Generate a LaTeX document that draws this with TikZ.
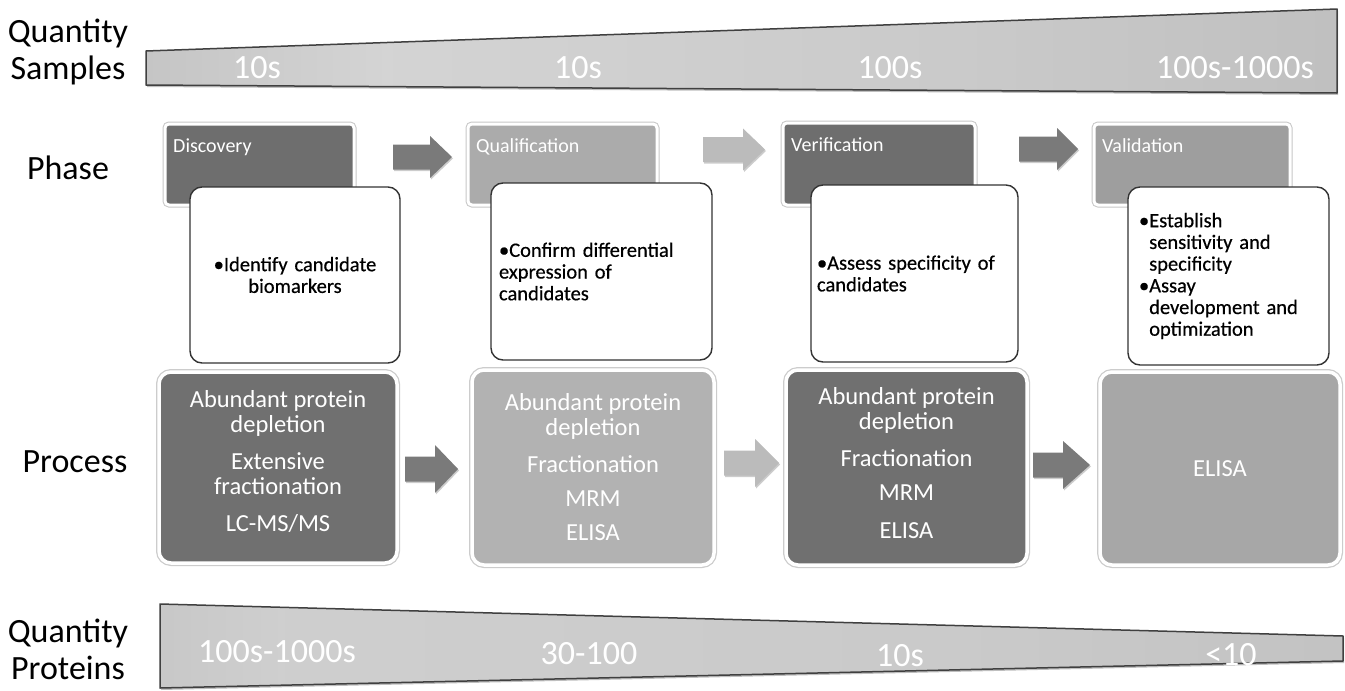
\documentclass[tikz,border=0pt]{standalone}
\usepackage{fontspec}
\setmainfont{Carlito}
\newfontfamily\infofont[FakeBold=0.5]{Carlito}
\usetikzlibrary{calc,shadows}
\definecolor{darkbox}{HTML}{6E6E6E}
\definecolor{lightbox}{HTML}{ABABAB}
\definecolor{midbox}{HTML}{9E9E9E}
\definecolor{darkproc}{HTML}{707070}
\definecolor{lightproc}{HTML}{B2B2B2}
\definecolor{midproc}{HTML}{A7A7A7}
\definecolor{darkarrow}{HTML}{7A7A7A}
\definecolor{lightarrow}{HTML}{BBBBBB}
\pgfdeclarehorizontalshading{topwedgeshade}{100bp}{color(0bp)=(black!37); color(35bp)=(black!17); color(60bp)=(black!21); color(100bp)=(black!31)}
\pgfdeclarehorizontalshading{botwedgeshade}{100bp}{color(0bp)=(black!35); color(30bp)=(black!19); color(60bp)=(black!21); color(100bp)=(black!28)}
\newcommand{\blockarr}[7]{%
  \fill[#7, drop shadow={shadow xshift=1pt,shadow yshift=-1.5pt,fill=black,opacity=0.2}]
    (#1,#4-#5) -- (#2,#4-#5) -- (#2,#4-#6) -- (#3,#4) -- (#2,#4+#6) -- (#2,#4+#5) -- (#1,#4+#5) -- cycle;}
\begin{document}
\begin{tikzpicture}[x=1pt,y=-1pt,
  lab/.style={font=\fontsize{34}{37}\selectfont, align=center, text=black},
  wlab/.style={font=\fontsize{34}{37}\selectfont, text=white},
  wedge/.style={draw=black!75, line width=1.5pt, line join=round, shading angle=0,
    drop shadow={shadow xshift=1pt,shadow yshift=-2pt,fill=black,opacity=0.25}},
  phasebox/.style={rectangle, rounded corners=4pt, draw=white, line width=3pt, preaction={draw=black!22, line width=5pt}, anchor=north west, inner sep=0pt, outer sep=0pt},
  phlab/.style={font=\fontsize{20}{22}\selectfont, text=white, anchor=west, inner sep=0pt},
  infobox/.style={rectangle, rounded corners=12pt, draw=black!80, line width=1.4pt, fill=white, anchor=north west, outer sep=0pt, inner ysep=0pt, font=\infofont\fontsize{20.5}{21.7}\selectfont},
  procbox/.style={rectangle, rounded corners=12pt, draw=white, line width=3.5pt, preaction={draw=black!20, line width=6pt}, anchor=north west, inner sep=0pt, outer sep=0pt, text=white, align=center, font=\fontsize{24.5}{25}\selectfont},
]
\useasboundingbox (0,0) rectangle (1345,691);
\fill[white] (0,0) rectangle (1345,691);

% top wedge
\shade[wedge, shading=topwedgeshade] (146,51) -- (1337,9) -- (1337,93) -- (146,85) -- cycle;
\node[wlab] (s1) at (257,68) {10s};
\node[wlab] (s2) at (578,68) {10s};
\node[wlab] (s3) at (890,68) {100s};
\node[wlab] (s4) at (1235,68) {100s-1000s};

% bottom wedge
\shade[wedge, shading=botwedgeshade] (160,604) -- (1343,636) -- (1343,661) -- (160,688) -- cycle;
\node[wlab] (q1) at (277,652) {100s-1000s};
\node[wlab] (q2) at (589,654) {30-100};
\node[wlab] (q3) at (900,656) {10s};
\node[wlab] (q4) at (1231,655) {<10};

% left labels
\node[lab] (qs) at (68,52) {Quantity\\Samples};
\node[lab] (phase) at (68,168) {Phase};
\node[lab] (proc) at (75,462) {Process};
\node[lab] (qp) at (68,649) {Quantity\\Proteins};

% phase boxes
\node[phasebox, fill=darkbox, minimum width=189pt, minimum height=81pt] (ph1) at (165,124) {};
\node[phasebox, fill=lightbox, minimum width=189pt, minimum height=81pt] (ph2) at (468,124) {};
\node[phasebox, fill=darkbox, minimum width=192pt, minimum height=82pt] (ph3) at (783,123) {};
\node[phasebox, fill=midbox, minimum width=196pt, minimum height=81pt] (ph4) at (1094,124) {};
\node[phlab] (ph1l) at ($(ph1.north west)+(8,23)$) {Discovery};
\node[phlab] (ph2l) at ($(ph2.north west)+(8,23)$) {Qualification};
\node[phlab] (ph3l) at ($(ph3.north west)+(8,22)$) {Verification};
\node[phlab] (ph4l) at ($(ph4.north west)+(8,22)$) {Validation};

% info boxes
\node[infobox, minimum width=210pt, minimum height=176pt, text width=194pt, inner xsep=8pt, align=center] (i1) at (190,187) {•Identify candidate\\biomarkers};
\node[infobox, minimum width=221pt, minimum height=177pt, text width=205pt, inner xsep=8pt, align=left] (i2) at (491,183) {•Confirm differential\\expression of\\candidates};
\node[infobox, minimum width=207pt, minimum height=177pt, text width=195pt, inner xsep=6pt, align=left] (i3) at (811,185) {•Assess specificity of\\candidates};
\node[infobox, minimum width=201pt, minimum height=178pt, text width=179pt, inner xsep=11pt, align=left] (i4) at (1128,187) {•Establish\\\phantom{•}sensitivity and\\\phantom{•}specificity\\•Assay\\\phantom{•}development and\\\phantom{•}optimization};

% process boxes
\node[procbox, fill=darkproc, minimum width=238pt, minimum height=191pt] (p1) at (159,372) {Abundant protein\\depletion\\[12pt]Extensive\\fractionation\\[12pt]LC-MS/MS\\[-11pt]\mbox{}};
\node[procbox, fill=lightproc, minimum width=242pt, minimum height=195pt] (p2) at (472,370) {Abundant protein\\depletion\\[12pt]Fractionation\\[9pt]MRM\\[9pt]ELISA};
\node[procbox, fill=darkproc, minimum width=241pt, minimum height=195pt] (p3) at (786,370) {Abundant protein\\depletion\\[12pt]Fractionation\\[9pt]MRM\\[13pt]ELISA\\[-16pt]\mbox{}};
\node[procbox, fill=midproc, minimum width=240pt, minimum height=193pt] (p4) at (1100,372) {ELISA};

% phase arrows
\blockarr{393}{430}{452}{157}{12.5}{21}{darkarrow}
\blockarr{703}{743}{765}{149.5}{12.5}{21}{lightarrow}
\blockarr{1019}{1057}{1078}{149}{12.5}{21}{darkarrow}
% process arrows
\blockarr{405}{435}{458}{469}{12.5}{24}{darkarrow}
\blockarr{724}{755}{779}{463}{12.5}{24}{lightarrow}
\blockarr{1033}{1063}{1090}{465}{12.5}{24}{darkarrow}
\end{tikzpicture}
\end{document}
